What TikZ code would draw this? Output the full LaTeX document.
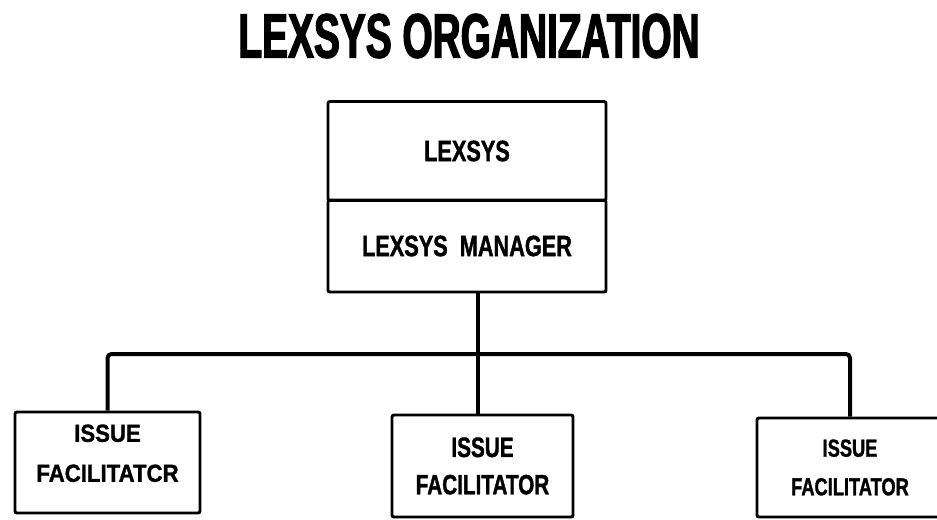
\documentclass[tikz,border=0pt]{standalone}
\usepackage{fontspec}
\newfontfamily\boxfont[FakeStretch=0.74,FakeBold=1.2]{Liberation Sans}
\newfontfamily\widefont[FakeStretch=0.9,FakeBold=1.2]{Liberation Sans}
\newfontfamily\headfont[FakeStretch=0.62,FakeBold=2]{Liberation Sans}
\usetikzlibrary{positioning}

\tikzset{
  orgbox/.style={draw, line width=2.2pt, rounded corners=1.5pt, inner sep=0pt,
    align=center, font=\boxfont\bfseries\fontsize{18.5}{29}\selectfont},
  orgline/.style={line width=3pt, rounded corners=3pt}
}

\begin{document}
\begin{tikzpicture}[x=0.75pt,y=-0.75pt]
  \useasboundingbox (0,0) rectangle (937,519);
  \node (title) at (469,36) {\headfont\bfseries\fontsize{47}{50}\selectfont LEXSYS ORGANIZATION};
  \node[orgbox, minimum width=208.5pt, minimum height=74.25pt,
        font=\boxfont\bfseries\fontsize{22}{26}\selectfont] (lexsys) at (467,151) {LEXSYS};
  \node[orgbox, minimum width=208.5pt, minimum height=69pt,
        font=\boxfont\bfseries\fontsize{22}{26}\selectfont] (mgr) at (467,246) {LEXSYS\ \ MANAGER};
  \node[orgbox, minimum width=138.75pt, minimum height=75.75pt, text depth=14pt,
        font=\widefont\bfseries\fontsize{18.5}{30}\selectfont] (fac1) at (107.5,462.5) {ISSUE\\FACILITATCR};
  \node[orgbox, minimum width=135.75pt, minimum height=76.5pt,
        font=\boxfont\bfseries\fontsize{21}{28}\selectfont] (fac2) at (482.5,466) {ISSUE\\FACILITATOR};
  \node[orgbox, minimum width=139.5pt, minimum height=74.25pt] (fac3) at (850,467.5) {ISSUE\\FACILITATOR};
  \coordinate (bus) at (478,354);
  \draw[orgline] (fac1.north) |- (bus) -| (fac3.north);
  \draw[line width=3pt] (mgr.south -| bus) -- (bus |- fac2.north);
\end{tikzpicture}
\end{document}
